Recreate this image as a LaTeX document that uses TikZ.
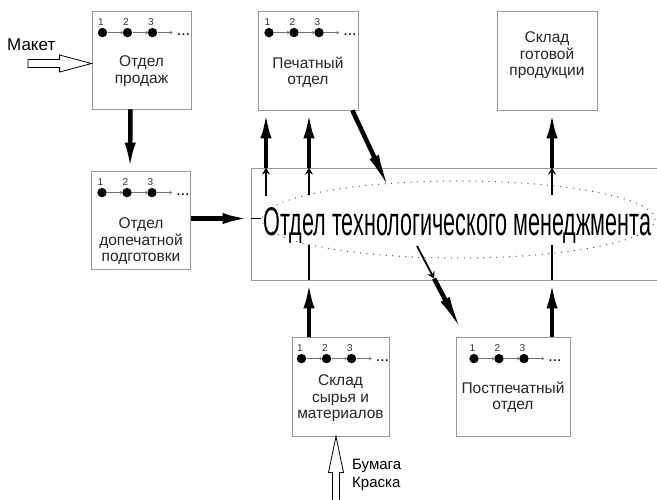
\documentclass[tikz,border=0pt]{standalone}
\usepackage{fontspec}
\setmainfont{Liberation Sans}
\usetikzlibrary{arrows.meta,positioning,calc,shapes.geometric}

\newcommand{\steprow}[1]{%
  \begin{scope}[shift={(#1.north)}]
    \foreach \n/\dx in {1/-39,2/-14,3/11}{
      \node[stepnum] at (\dx-1.5,11.5) {\n};
      \fill (\dx,22) circle (4.7pt);
    }
    \draw[stepline] (-34,22) -- (-18.5,22);
    \draw[stepline] (-9,22) -- (6.5,22);
    \draw[stepline] (16,22) -- (31,22);
    \node[inner sep=0pt, font=\fontsize{16}{16}\selectfont] at (42,24.5) {...};
  \end{scope}}

\begin{document}
\begin{tikzpicture}[x=1pt, y=-1pt,
    dept/.style={draw=black!40, line width=0.8pt, minimum width=99pt, minimum height=98pt, inner sep=0pt},
    depttext/.style={anchor=north, align=center, inner sep=0pt, font=\fontsize{15.5}{16.5}\selectfont, text=black!85},
    stepnum/.style={font=\fontsize{10}{10}\selectfont, text=black!80, inner sep=0pt},
    stepline/.style={draw=black!55, line width=0.6pt, -{To[length=2.5pt,width=3.5pt]}},
    heavy/.style={line width=4.5pt, -{Latex[length=28pt,width=11pt]}},
    heavylong/.style={line width=4.5pt, -{Latex[length=42pt,width=10pt]}},
    thinarrow/.style={line width=1.8pt, -{Stealth[length=7pt,width=8pt,inset=2.5pt]}},
    thinline/.style={line width=1.8pt},
    hollow/.style={draw, line width=0.8pt, fill=white, line join=miter}]
   \useasboundingbox (0,0) rectangle (657,499);
   \clip (0,0) rectangle (657,499);

   % departments
   \node[dept] (sales) at (141.5,60) {};
   \node[dept, minimum width=100pt, minimum height=99pt] (printing) at (308,60.5) {};
   \node[dept, minimum width=100pt, minimum height=99pt] (finished) at (547,60.5) {};
   \node[dept] (prepress) at (141,220) {};
   \node[dept, minimum width=97pt, minimum height=99pt] (rawstock) at (340.5,386.5) {};
   \node[dept, minimum width=114pt, minimum height=99pt] (postpress) at (513,386.5) {};

   \node[depttext] (salestext) at ([yshift=-45pt]sales.north) {Отдел\\продаж};
   \node[depttext] (printingtext) at ([yshift=-46pt]printing.north) {Печатный\\отдел};
   \node[depttext] (finishedtext) at ([yshift=-21pt]finished.north) {Склад\\готовой\\продукции};
   \node[depttext] (prepresstext) at ([yshift=-47pt]prepress.north) {Отдел\\допечатной\\подготовки};
   \node[depttext] (rawstocktext) at ([yshift=-38pt]rawstock.north) {Склад\\сырья и\\материалов};
   \node[depttext] (postpresstext) at ([yshift=-45pt]postpress.north) {Постпечатный\\отдел};

   \steprow{sales}
   \steprow{printing}
   \steprow{prepress}
   \steprow{rawstock}
   \steprow{postpress}

   % technology management
   \node[draw=black!40, line width=0.8pt, minimum width=420pt, minimum height=112pt, inner sep=0pt] (techdept) at (461,224) {};
   \node[ellipse, draw=black!70, line width=1.3pt, dash pattern=on 0pt off 6.5pt, line cap=round,
         minimum width=393pt, minimum height=77pt, inner sep=0pt] (tmm) at (458.5,219.5) {};
   \node[anchor=base, inner sep=0pt] (tmmtext) at (457.5,235)
        {\scalebox{0.54}[1]{\fontsize{40}{40}\selectfont Отдел технологического менеджмента}};

   % flows
   \draw[heavy] ([xshift=-11pt]sales.south) -- ([xshift=-11pt]prepress.north);
   \draw[heavy] ([yshift=1.5pt]prepress.east) -- ([yshift=1.5pt]prepress.east -| techdept.west);
   \draw[thinline] ([yshift=1.5pt]prepress.east -| techdept.west) -- ([yshift=1.5pt]prepress.east -| tmm.west);

   \coordinate (up1) at (266,196);
   \coordinate (up2) at (309,195);
   \coordinate (up3) at (552,195);
   \draw[thinarrow] (up1) -- (up1 |- techdept.north);
   \draw[heavy] (up1 |- techdept.north) -- (up1 |- printing.south);
   \draw[thinarrow] (up2) -- (up2 |- techdept.north);
   \draw[heavy] (up2 |- techdept.north) -- (up2 |- printing.south);
   \draw[thinarrow] (up3) -- (up3 |- techdept.north);
   \draw[heavy] (up3 |- techdept.north) -- (up3 |- finished.south);

   \coordinate (in1) at (309,245);
   \coordinate (in2) at (552,245);
   \draw[heavy] (in1 |- rawstock.north) -- (in1 |- techdept.south);
   \draw[thinline] (in1 |- techdept.south) -- (in1);
   \draw[heavy] (in2 |- postpress.north) -- (in2 |- techdept.south);
   \draw[thinline] (in2 |- techdept.south) -- (in2);

   \coordinate (out1) at (392,195);
   \draw[heavylong] ([xshift=-6pt]printing.south east) -- (out1);
   \coordinate (out2) at (417,246);
   \coordinate (out2b) at ($(out2)!0.36!([xshift=9pt]postpress.north west)$);
   \draw[thinarrow] (out2) -- (out2b);
   \draw[heavylong] (out2b) -- ([xshift=9pt]postpress.north west);

   % inputs
   \coordinate (maket) at (28,63.5);
   \coordinate (maketTip) at (sales.west |- maket);
   \draw[hollow] ($(maket)+(0,-4)$) -- ($(maketTip)+(-32,-4)$) -- ($(maketTip)+(-32,-8.5)$) -- (maketTip)
      -- ($(maketTip)+(-32,8.5)$) -- ($(maketTip)+(-32,4)$) -- ($(maket)+(0,4)$) -- cycle;
   \node[anchor=base west, inner sep=0pt, font=\fontsize{17}{17}\selectfont] (maketlabel) at (7,50) {Макет};

   \coordinate (supply) at (336,505);
   \coordinate (supplyTip) at (supply |- rawstock.south);
   \draw[hollow] ($(supply)+(-3.5,0)$) -- ($(supplyTip)+(-3.5,36)$) -- ($(supplyTip)+(-7.5,36)$) -- (supplyTip)
      -- ($(supplyTip)+(7.5,36)$) -- ($(supplyTip)+(3.5,36)$) -- ($(supply)+(3.5,0)$);
   \node[anchor=north west, align=left, inner sep=0pt, font=\fontsize{15}{18}\selectfont] (supplylabel) at (352,459) {Бумага\\Краска};
\end{tikzpicture}
\end{document}
